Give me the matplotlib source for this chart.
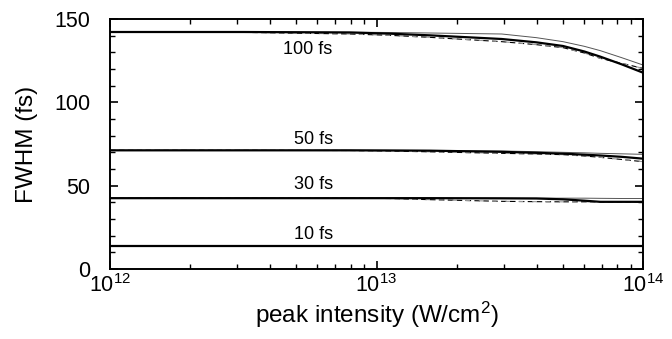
import matplotlib
matplotlib.use("Agg")
import matplotlib.pyplot as plt
import numpy as np
from matplotlib.ticker import MultipleLocator, LogLocator, NullFormatter

plt.rcParams['font.family'] = ['Liberation Sans', 'DejaVu Sans']
plt.rcParams['mathtext.fontset'] = 'custom'
plt.rcParams['mathtext.rm'] = 'Liberation Sans'
plt.rcParams['mathtext.it'] = 'Liberation Sans:italic'
plt.rcParams['mathtext.bf'] = 'Liberation Sans:bold'
plt.rcParams['mathtext.default'] = 'rm'

# log10 of peak intensity for each sampled point
logI = [12.0, 12.5, 12.9, 13.05, 13.2, 13.47, 13.6, 13.7, 13.78, 13.84, 13.92, 14.0]
intensity = [10 ** v for v in logI]

# 100 fs pulse
fwhm100_thick = [142.2, 142.2, 141.9, 141.2, 140.2, 138.0, 136.0, 133.8, 130.5, 127.4, 122.8, 117.8]
fwhm100_thin = [142.2, 142.2, 142.1, 141.9, 141.6, 141.0, 138.8, 136.4, 133.6, 131.0, 126.8, 122.4]
fwhm100_dash = [142.2, 142.0, 141.0, 140.2, 139.0, 136.4, 134.6, 132.8, 129.6, 126.4, 123.4, 120.4]

# 50 fs pulse
fwhm50_thick = [71.2, 71.2, 71.2, 71.1, 71.0, 70.3, 69.7, 69.2, 68.6, 68.1, 67.3, 66.2]
fwhm50_thin = [71.2, 71.2, 71.2, 71.2, 71.1, 70.8, 70.4, 70.0, 69.7, 69.4, 69.1, 68.8]
fwhm50_dash = [71.2, 71.2, 71.1, 70.8, 70.3, 69.4, 69.0, 68.6, 67.8, 67.0, 65.7, 64.4]

# 30 fs pulse
fwhm30_thick = [42.5, 42.5, 42.5, 42.5, 42.5, 42.4, 42.3, 41.8, 41.0, 40.3, 40.3, 40.3]
fwhm30_thin = [42.5, 42.5, 42.5, 42.5, 42.5, 42.5, 42.5, 42.5, 42.5, 42.4, 42.3, 42.3]
fwhm30_dash = [42.5, 42.5, 42.5, 42.3, 41.6, 40.6, 40.4, 40.3, 40.3, 40.3, 40.3, 40.3]

# 10 fs pulse
fwhm10 = [14.0] * len(logI)

pulse_labels = ["100 fs", "50 fs", "30 fs", "10 fs"]
label_logx = [12.74, 12.765, 12.765, 12.765]
label_y = [131.5, 77.5, 50.5, 20.5]

fig = plt.figure(figsize=(6.72, 3.39), dpi=100)
ax = fig.add_axes([110 / 672, 1 - 269 / 339, (643 - 110) / 672, (269 - 19) / 339])

groups = [
    (fwhm100_thick, fwhm100_thin, fwhm100_dash),
    (fwhm50_thick, fwhm50_thin, fwhm50_dash),
    (fwhm30_thick, fwhm30_thin, fwhm30_dash),
]
for thick, thin, dash in groups:
    ax.plot(intensity, dash, color='black', lw=0.8, ls=(0, (5, 3)))
    ax.plot(intensity, dash, color='#999999', lw=0.8, ls=(4, (4, 8)))
    ax.plot(intensity, thin, color='#555555', lw=0.7)
    ax.plot(intensity, thick, color='black', lw=1.6)
ax.plot(intensity, fwhm10, color='black', lw=1.6)

for lab, lx, ly in zip(pulse_labels, label_logx, label_y):
    ax.text(10 ** lx, ly, lab, ha='center', va='center', fontsize=13)

ax.set_xscale('log')
ax.set_xlim(1e12, 1e14)
ax.set_ylim(0, 150)
ax.yaxis.set_major_locator(MultipleLocator(50))
ax.yaxis.set_minor_locator(MultipleLocator(10))
ax.xaxis.set_major_locator(LogLocator(base=10, numticks=10))
ax.xaxis.set_minor_locator(LogLocator(base=10, subs=np.arange(2, 10), numticks=20))
ax.xaxis.set_minor_formatter(NullFormatter())
ax.tick_params(which='both', direction='in', top=True, right=True, labelsize=15.5)
ax.tick_params(which='major', length=6, width=1.2)
ax.tick_params(which='minor', length=3.5, width=1)
ax.tick_params(axis='x', pad=4)
ax.tick_params(axis='y', pad=14)
for s in ax.spines.values():
    s.set_linewidth(1.4)

ax.set_xlabel("peak intensity (W/cm$^2$)", fontsize=17.5, labelpad=2)
ax.set_ylabel("FWHM (fs)", fontsize=17.5, labelpad=12)

fig.savefig("out.png", dpi=100)
